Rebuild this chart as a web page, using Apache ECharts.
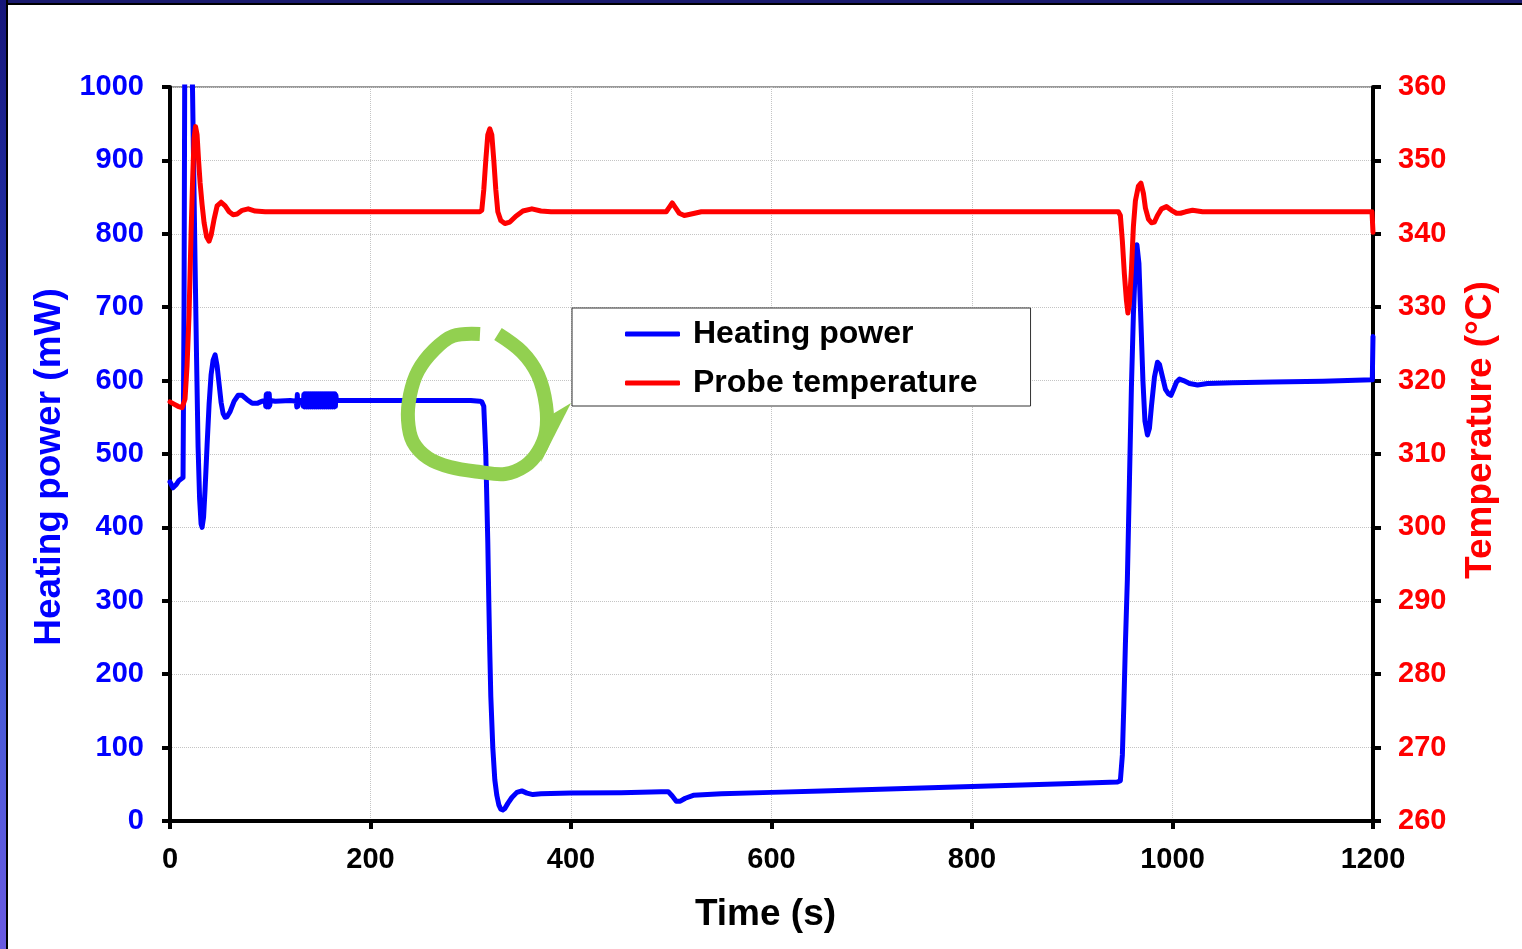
<!DOCTYPE html>
<html>
<head>
<meta charset="utf-8">
<script src="https://cdn.jsdelivr.net/npm/echarts@6/dist/echarts.min.js"></script>
<style>
  html, body { margin: 0; padding: 0; background: #fff; overflow: hidden; }
  #chart { position: absolute; left: 0; top: 0; width: 1522px; height: 949px; }
  #topband { position: absolute; left: 0; top: 0; width: 1522px; height: 3px; background: #1b1b6e; z-index: 5; }
  #topline { position: absolute; left: 0; top: 3px; width: 1522px; height: 2px; background: #000; z-index: 5; }
  #leftband { position: absolute; left: 0; top: 0; width: 6px; height: 949px;
    background: linear-gradient(to bottom, #16167a 0%, #2a3fc4 45%, #4a5ad8 75%, #6a5ae2 100%); z-index: 6; }
  #leftline { position: absolute; left: 6px; top: 0; width: 2px; height: 949px; background: #000; z-index: 6; }
</style>
</head>
<body>
<div id="chart"></div>
<div id="topband"></div><div id="topline"></div>
<div id="leftband"></div><div id="leftline"></div>
<script>
// ---- Data ----
const seriesNames = ['Heating power', 'Probe temperature'];

const xTicks = [0, 200, 400, 600, 800, 1000, 1200];
const powerTicks = [0, 100, 200, 300, 400, 500, 600, 700, 800, 900, 1000];
const tempTicks = [260, 270, 280, 290, 300, 310, 320, 330, 340, 350, 360];

// Heating power (mW) vs time (s)
const powerTime = [
  0, 3, 6, 9, 11, 13, 14, 15.5, 18, 20.5, 22, 23.5, 25, 26.5, 28, 29.5, 31, 32, 33.5, 35,
  37, 39, 41, 43, 45, 47, 49, 51, 53, 55, 57, 60, 64, 68, 72, 77, 82, 87, 92,
  95, 95.5, 96, 96.5, 97, 97.5, 98, 98.5, 99, 99.5, 100, 101, 105, 120, 126, 126.5, 127, 127.5, 128, 132,
  133, 133.5, 134, 134.5, 135, 135.5, 136, 136.5, 137, 137.5, 138, 138.5, 139, 139.5, 140, 140.5,
  141, 141.5, 142, 142.5, 143, 143.5, 144, 144.5, 145, 145.5, 146, 146.5, 147, 147.5, 148, 148.5,
  149, 149.5, 150, 150.5, 151, 151.5, 152, 152.5, 153, 153.5, 154, 154.5, 155, 155.5, 156, 156.5,
  157, 157.5, 158, 158.5, 159, 159.5, 160, 160.5, 161, 161.5, 162, 162.5, 163, 163.5, 164, 164.5,
  165, 165.5, 166, 170,
  200, 250, 300, 309, 311, 313, 315, 317, 318, 319, 320, 322, 324, 326, 328, 330, 332, 334,
  337, 341, 346, 351, 356, 362, 370, 400, 450, 490, 497, 501, 505, 509, 514, 522, 550,
  600, 650, 700, 750, 800, 850, 900, 945, 948, 950, 951.5, 953, 955, 957, 959, 961, 963,
  964.5, 966.5, 968.5, 970.5, 972.5, 975, 977, 979, 982, 985, 987, 990, 993, 996, 998.5,
  1001, 1004, 1007, 1011, 1017, 1025, 1035, 1060, 1100, 1150, 1199.3, 1200
];
const powerValues = [
  462, 454, 458, 464, 466, 468, 700, 1400, 1500, 1400, 1040, 900, 760, 630, 510, 440, 405, 400, 414, 452,
  512, 568, 608, 628, 635, 620, 595, 570, 555, 550, 551, 558, 572, 580, 580, 574, 569, 569, 572,
  573, 565, 581, 564, 582, 565, 581, 564, 582, 566, 573, 573, 572, 573, 572, 564, 581, 565, 573, 573,
  565, 581, 564, 582, 565, 581, 564, 582, 566, 580, 564, 582, 565, 581, 564, 582,
  565, 581, 564, 582, 565, 581, 564, 582, 566, 580, 564, 582, 565, 581, 564, 582,
  565, 581, 564, 582, 565, 581, 564, 582, 566, 580, 564, 582, 565, 581, 564, 582,
  565, 581, 564, 582, 565, 581, 564, 582, 566, 580, 564, 582, 565, 581, 564, 582,
  565, 580, 573, 573,
  573, 573, 573, 572, 571, 565, 500, 380, 300, 230, 170, 100, 56, 35, 22, 16, 15, 17,
  24, 32, 39, 41, 38, 36, 37, 38, 38.5, 40, 40, 34, 27, 27, 31, 35, 37,
  39, 41, 43, 45, 47, 49, 51, 53, 55, 90, 160, 240, 330, 460, 590, 690, 760,
  785, 760, 680, 600, 545, 526, 535, 565, 605, 625, 622, 605, 588, 582, 580,
  588, 598, 602, 600, 596, 594, 596, 597, 598, 599, 601, 660
];

// Probe temperature (°C) vs time (s)
const tempTime = [
  0, 4, 8, 12, 13.5, 15, 17, 19, 21, 22.5, 24, 25.5, 27, 28.5, 30, 32, 34, 36.5, 39, 41,
  44, 47, 51, 55, 59, 63, 67, 72, 78, 85, 95, 200, 309, 311, 313, 315, 317, 319, 321, 323,
  325, 327, 330, 334, 339, 345, 352, 361, 370, 380, 495, 498, 501, 504, 508, 513, 520, 530,
  700, 946, 948, 950, 952, 954, 955.5, 957, 959, 961, 963, 966, 968.5, 971, 973, 976, 979,
  982, 985, 989, 994, 999, 1004, 1008, 1013, 1020, 1030, 1100, 1199, 1200
];
const tempValues = [
  317.1, 316.8, 316.5, 316.3, 316.4, 317.5, 322, 329, 340, 347, 353, 354.6, 353.5, 350, 347, 344, 341.5, 339.6, 339, 339.8,
  342, 343.8, 344.3, 343.8, 343, 342.6, 342.7, 343.2, 343.4, 343.1, 343.0, 343.0, 343.0, 343.2, 346, 350, 353.5, 354.3, 353.5, 350,
  346, 343, 341.8, 341.4, 341.6, 342.4, 343.1, 343.4, 343.1, 343.0, 343.0, 343.6, 344.2, 343.6, 342.8, 342.5, 342.7, 343.0,
  343.0, 343.0, 342.5, 339, 334.5, 331, 329.2, 330.5, 335, 341, 344.5, 346.5, 346.9, 345.5, 343.5, 342, 341.5,
  341.6, 342.5, 343.4, 343.7, 343.2, 342.8, 342.8, 343.0, 343.2, 343.0, 343.0, 343.0, 340.2
];

const powerData = powerTime.map((t, i) => [t, powerValues[i]]);
const tempData = tempTime.map((t, i) => [t, tempValues[i]]);

const FONT = "'Liberation Sans', Arial, sans-serif";
const plain = v => String(v);
const chart = echarts.init(document.getElementById('chart'), null, { renderer: 'canvas' });

const option = {
  animation: false,
  backgroundColor: '#fff',
  grid: { left: 170, right: 149, top: 87, bottom: 128, show: true, borderColor: '#999', borderWidth: 2, backgroundColor: 'transparent' },
  legend: {
    data: seriesNames,
    left: 572, top: 308, orient: 'vertical',
    padding: [9, 53, 6, 53],
    itemGap: 15, itemWidth: 55, itemHeight: 5,
    icon: 'roundRect',
    backgroundColor: '#fff', borderColor: '#333', borderWidth: 1,
    textStyle: { fontSize: 32, fontWeight: 'bold', color: '#000', fontFamily: FONT, lineHeight: 34, padding: [0, 0, 0, 8] }
  },
  xAxis: {
    type: 'value', min: xTicks[0], max: xTicks[xTicks.length - 1], interval: 200,
    name: 'Time (s)', nameLocation: 'middle', nameGap: 75,
    nameTextStyle: { fontSize: 37, fontWeight: 'bold', color: '#000', fontFamily: FONT, padding: [0, 12, 0, 0] },
    axisLine: { show: true, lineStyle: { color: '#000', width: 4 } },
    axisTick: { show: true, length: 8, lineStyle: { color: '#000', width: 4 } },
    axisLabel: { margin: 24, fontSize: 29, fontWeight: 'bold', color: '#000', fontFamily: FONT, formatter: plain },
    splitLine: { show: true, lineStyle: { color: '#c4c4c4', type: 'dotted', width: 1 } }
  },
  yAxis: [
    {
      type: 'value', min: powerTicks[0], max: powerTicks[powerTicks.length - 1], interval: 100,
      position: 'left',
      name: 'Heating power (mW)', nameLocation: 'middle', nameGap: 81, nameRotate: 90,
      nameTextStyle: { fontSize: 37, fontWeight: 'bold', color: '#0000ff', fontFamily: FONT, padding: [0, 26, 0, 0] },
      axisLine: { show: true, lineStyle: { color: '#000', width: 4 } },
      axisTick: { show: true, length: 8, lineStyle: { color: '#000', width: 4 } },
      axisLabel: { margin: 26, fontSize: 29, fontWeight: 'bold', color: '#0000ff', fontFamily: FONT, formatter: plain },
      splitLine: { show: true, lineStyle: { color: '#c4c4c4', type: 'dotted', width: 1 } }
    },
    {
      type: 'value', min: tempTicks[0], max: tempTicks[tempTicks.length - 1], interval: 10,
      position: 'right',
      name: 'Temperature (°C)', nameLocation: 'middle', nameGap: 89, nameRotate: 90,
      nameTextStyle: { fontSize: 37, fontWeight: 'bold', color: '#ff0000', fontFamily: FONT, padding: [0, 0, 0, 48] },
      axisLine: { show: true, lineStyle: { color: '#000', width: 4 } },
      axisTick: { show: true, length: 8, lineStyle: { color: '#000', width: 4 } },
      axisLabel: { margin: 25, fontSize: 29, fontWeight: 'bold', color: '#ff0000', fontFamily: FONT, formatter: plain },
      splitLine: { show: false }
    }
  ],
  series: [
    {
      name: seriesNames[0], type: 'line', yAxisIndex: 0, data: powerData,
      symbol: 'none', showSymbol: false, clip: true,
      itemStyle: { color: '#0000ff' },
      lineStyle: { color: '#0000ff', width: 5, join: 'round', cap: 'round' }
    },
    {
      name: seriesNames[1], type: 'line', yAxisIndex: 1, data: tempData,
      symbol: 'none', showSymbol: false, clip: true,
      itemStyle: { color: '#ff0000' },
      lineStyle: { color: '#ff0000', width: 5, join: 'round', cap: 'round' }
    }
  ],
  graphic: [
    {
      type: 'polyline', z: 100, silent: true,
      shape: {
        points: [[498, 334], [522, 352], [538, 375], [546, 405], [546, 432], [538, 452], [525, 466],
                 [505, 474], [480, 472], [450, 467], [428, 458], [413, 442], [408, 420], [410, 395],
                 [418, 371], [434, 350], [453, 336], [480, 334]],
        smooth: 0.35
      },
      style: { stroke: '#92d050', lineWidth: 14, fill: null, lineCap: 'butt', lineJoin: 'round' }
    },
    {
      type: 'polygon', z: 100, silent: true,
      shape: { points: [[546, 418], [571, 403], [541, 462]] },
      style: { fill: '#92d050' }
    }
  ]
};
chart.setOption(option);
</script>
</body>
</html>
